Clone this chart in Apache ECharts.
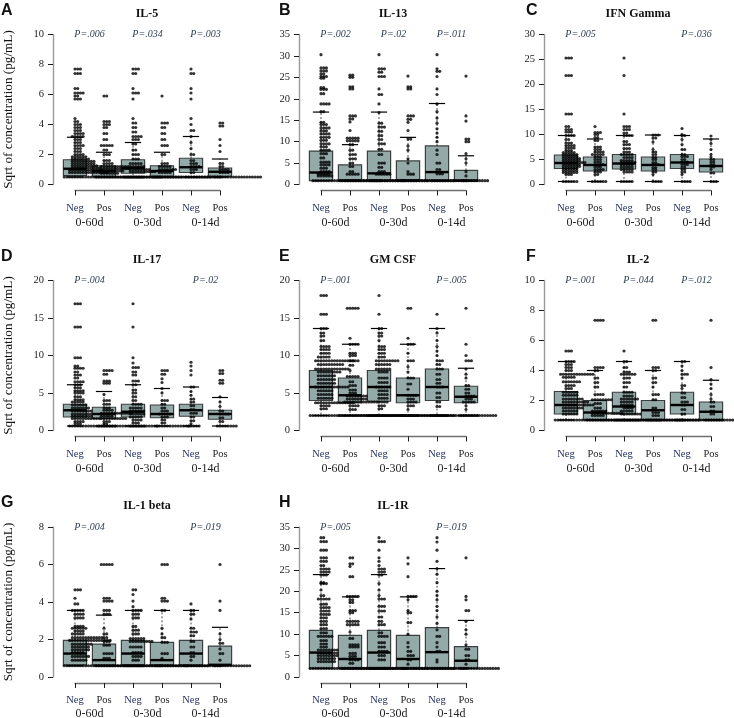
<!DOCTYPE html>
<html><head><meta charset="utf-8">
<style>html,body{margin:0;padding:0;background:#fff}#c{width:734px;height:718px}</style>
<script src="https://cdn.jsdelivr.net/npm/echarts@6/dist/echarts.min.js"></script>
</head><body><div id="c"></div>
<script>
const armLabels=['Neg','Pos','Neg','Pos','Neg','Pos'];
const windowLabels=['0-60d','0-30d','0-14d'];
const letters=['A','B','C','D','E','F','G','H'];
const titles=['IL-5','IL-13','IFN Gamma','IL-17','GM CSF','IL-2','IL-1 beta','IL-1R'];
const axisMax=[10,35,30,20,20,10,8,35];
const axisStep=[2,5,5,5,5,2,2,5];
const floors=[.5,.9,.6,.6,2,.7,.6,2];
const pValues=[
 ['P=.006','P=.034','P=.003'],['P=.002','P=.02','P=.011'],['P=.005',null,'P=.036'],['P=.004',null,'P=.02'],
 ['P=.001',null,'P=.005'],['P=.001','P=.044','P=.012'],['P=.004',null,'P=.019'],['P=.005',null,'P=.019']];
// each box: q1, median, q3, upper whisker
const boxes=[
 [[.6,1.05,1.65,3.15],[.55,.9,1.25,2.15],[.75,1.1,1.65,2.8],[.55,.9,1.25,2.15],[.8,1.15,1.75,3.2],[.55,.85,1.1,1.7]],
 [[.9,2.8,7.8,16.9],[.9,.9,4.6,9.3],[.9,2.6,7.8,16.9],[.9,.9,5.5,11],[.9,2.9,9,18.9],[.9,.9,3.3,6.7]],
 [[3.2,4.3,5.9,9.8],[2.7,3.9,5.5,9.1],[3.1,4.2,6,9.8],[2.7,3.9,5.5,9.9],[3.2,4.4,6,9.8],[2.5,3.7,5.1,9.1]],
 [[1.8,2.7,3.5,6.1],[1.6,2.2,3.1,5.2],[1.8,2.5,3.5,6.1],[1.7,2.2,3.4,5.6],[1.9,2.7,3.5,5.8],[1.5,2.2,2.7,4.4]],
 [[4,5.8,8,13.6],[3.7,4.7,7,11.5],[3.9,5.8,8,13.6],[3.7,4.7,7,11.5],[4,5.8,8.2,13.6],[3.7,4.5,5.9,8.3]],
 [[1.1,1.7,2.6,4.6],[.7,1.2,2,4],[1.1,1.6,2.55,4.6],[.7,1.35,2,4],[1.1,1.7,2.55,4.6],[.7,1.25,1.9,3.35]],
 [[.65,1.25,1.95,3.55],[.65,.9,1.75,3.3],[.65,1.25,1.95,3.55],[.65,.9,1.85,3.55],[.65,1.25,1.95,3.55],[.65,.65,1.65,2.65]],
 [[2,5.7,10.9,23.9],[2,4.2,9.7,18.7],[2,5.7,10.9,23.9],[2,4.2,9.7,18.7],[2,5.8,11.5,25.3],[2,3.8,7.1,13.2]]];
const il5=[
 [7.7,3,7.4,3,6.4,2,6.1,4,5.9,2,5.7,3,4.4,1,4.2,2,4,3,3.8,3,3.6,3,3.4,4,3.2,5,3,3,2.8,3,2.6,4,2.4,3,2.2,3,2,4,1.85,6,1.7,7,1.55,9,1.4,9,1.25,10,1.1,11,.95,13,.8,15,.5,30],
 [5.9,2,4.2,3,4,3,3.8,2,3.4,2,3,2,2.6,5,2.3,2,2,3,1.6,3,1.4,4,1.2,11,1.05,11,.9,9,.75,7,.5,25],
 [7.7,3,7.4,2,6.4,1,6.1,3,5.7,1,4.4,1,4.1,2,3.8,2,3.5,2,3.2,4,3,3,2.7,2,2.3,2,2,3,1.7,3,1.4,5,1.2,6,1,8,.85,10,.5,22],
 [5.9,1,4.1,3,3.8,2,3.4,2,3,2,2.6,3,2,2,1.4,3,1.2,5,1,7,.8,5,.5,22],
 [7.7,1,7.4,2,6.4,1,6.1,1,5.7,1,4.4,1,4,1,3.6,2,3.2,1,2.8,1,2.4,1,2,2,1.6,2,1.4,3,1.2,4,1,3,.8,2,.5,14],
 [4.1,2,3.9,2,3,1,2.6,1,2.2,1,1.4,2,1.2,2,1,4,.8,4,.5,18]];
const il13=[
 [30.3,1,27.2,3,26.5,3,25.8,2,25.2,3,24.8,2,22.6,2,22.2,3,21.2,2,18.8,4,17,2,14.5,2,14,3,13.2,4,12.5,3,11.8,4,11,4,10.3,3,9.5,4,8.8,3,8,4,7.2,3,6.2,2,5.2,4,4.6,4,3.8,3,3,4,2.4,5,2,6,.9,26],
 [25.5,2,25,2,22.8,2,22.3,2,16,3,15.3,2,14.6,1,12.6,1,10.8,5,10.2,5,9.3,2,8,2,7,3,6,3,5,2,4.2,2,3,2,2.4,5,.9,24],
 [30.3,1,27,3,26.2,2,25.2,3,22.3,1,21,2,18.8,1,16.8,1,14.3,2,13.4,3,12.4,2,11.4,2,10.5,2,9.5,3,8.2,2,7,2,5,3,4,2,3,3,2.4,6,.9,22],
 [25.3,1,22.8,2,22.3,2,16,3,15.2,2,14.5,1,12.6,1,10.6,2,9,1,8,1,6,1,5,1,3,1,2.4,3,.9,20],
 [30.3,1,27,1,26.4,2,25.2,1,22.3,1,21,1,18.8,1,17,1,15.5,1,14.3,1,13,1,12,1,11,1,10,1,8,1,7,1,5,2,3.5,2,2.5,3,.9,14],
 [25.3,1,16,1,14.8,1,10.6,2,10,2,7.2,1,6,1,5,1,3,1,2,1,.9,10]];
const ifnGamma=[
 [25.3,3,21.8,3,14.1,3,11.6,2,11,3,10.5,3,9.8,4,9,2,8.3,3,7.8,4,7.3,4,6.8,3,6.4,5,6,6,5.6,6,5.2,7,4.8,7,4.4,9,4,7,3.6,7,3.2,6,2.8,6,2.4,6,2,3,.6,6],
 [11.6,1,10.4,3,10,2,9.4,2,8.8,2,7.5,3,7,3,6.5,4,6,5,5.5,3,5,3,4.5,3,4,4,3.5,3,3,4,2.5,3,2,2,.6,6],
 [25.3,1,21.8,1,14.1,1,11.6,3,11,3,10.3,2,9.8,4,8.6,2,8,3,7.2,3,6.5,3,6,5,5.4,4,4.8,5,4.4,6,4,5,3.5,5,3,5,2.5,4,.6,5],
 [9.9,3,9.3,2,8.5,1,7,1,6.5,2,6,2,5.4,2,5,2,4.4,2,4,3,3.4,2,3,2,2.5,2,2,1,.6,4],
 [11.2,1,10,1,9.8,2,9,1,8,1,7,2,6,2,5.6,3,5,2,4.5,3,4,3,3.5,2,3,2,2.5,2,2,1,.6,4],
 [9.7,1,9,1,8.2,1,7,1,6,1,5.5,1,5,2,4.5,2,4,2,3.5,2,3,1,2.3,2,.6,3]];
const il17=[
 [16.9,3,13.8,3,9.7,3,8.6,2,8.3,4,7.8,2,7.4,3,7,2,6.5,4,6.1,3,5.7,3,5.3,4,5,4,4.5,3,4.1,4,3.8,5,3.4,6,3,7,2.6,8,2.2,8,1.9,8,1.6,11,1.2,4,.9,3,.6,18],
 [8,4,7.5,2,6.6,3,6.3,3,4.8,1,4,3,3.5,3,3,3,2.7,4,2.3,12,1.9,5,1.6,10,1.2,3,.9,2,.6,18],
 [16.9,1,13.8,1,9.7,1,9,1,8.4,3,7.8,2,7.4,2,6.6,3,6.1,2,5.4,2,5,2,4.5,2,4,2,3.5,4,3,5,2.6,6,2.2,6,1.8,5,1.4,4,1,3,.6,11],
 [8,3,7.5,2,6.9,1,6.4,1,5.6,1,5,1,4,3,3.5,2,3,2,2.6,3,2.2,5,1.8,3,1.4,2,1,2,.6,13],
 [9.1,1,8.6,1,8,1,7.4,1,5.8,2,5.2,1,4.7,1,4.2,2,3.8,2,3.3,2,2.8,2,2.3,3,1.8,2,1.3,2,.9,1,.6,5],
 [8,2,7.6,2,6.7,2,6.3,2,4.5,1,3.8,1,3.2,1,2.6,2,2.2,4,1.7,2,1.2,2,.6,8]];
const gmCsf=[
 [18,3,15.5,3,13.6,3,13,2,12.6,2,12,2,11.2,4,10.8,4,10.3,4,9.8,5,9.3,15,8.8,10,8.2,13,7.8,9,7.3,7,6.8,7,6.3,7,5.8,13,5.3,6,4.8,6,4.3,6,3.7,15,3.3,4,2.9,3,2,35],
 [16.3,5,12.3,1,11.5,4,10.3,3,10,3,9.3,4,8.7,2,8,1,7.2,5,6.5,2,6,3,5.4,3,5,3,4.6,8,4.2,8,3.8,13,3.3,4,2.8,3,2,30],
 [18,1,15.5,1,13.6,2,13,2,12.6,2,12,1,11.2,3,10.8,3,10.3,3,9.8,3,9.3,9,8.8,6,8.2,6,7.8,4,7,4,6.4,4,5.8,6,5.3,4,4.8,4,4.3,4,3.8,4,3.3,3,2.9,2,2,30],
 [16.3,2,12.3,1,11.5,3,10.3,1,9.3,3,8.5,1,7.8,1,7,3,6.2,2,5.5,1,4.7,4,4.2,3,3.8,4,3.3,3,2.8,1,2,20],
 [15.5,1,13.6,1,13,1,12,1,11.2,1,10.6,1,10,1,9.3,3,8.8,2,8.2,3,7.5,2,6.8,2,6.3,2,5.8,3,5,2,4.4,2,3.8,2,3.2,2,2,18],
 [16.3,1,11.5,1,10,1,9.3,3,8.2,1,7.5,1,7,1,6,2,5.5,2,5,2,4.6,4,4.2,3,3.8,5,3.3,1,2.8,1,2,14]];
const il2=[
 [5.3,3,4.6,4,4.4,3,4.2,3,4,3,3.75,13,3.55,5,3.25,7,3,4,2.8,3,2.55,6,2.35,6,2.1,8,1.9,10,1.7,12,1.5,8,1.3,6,1.1,6,.7,32],
 [7.35,4,4.2,4,4,2,3.5,2,3.2,2,2.9,2,2.4,4,2.05,8,1.8,3,1.5,3,1.3,6,1.15,12,1,5,.7,28],
 [5.3,1,4.6,2,4.2,2,3.9,3,3.75,6,3.5,3,3.2,3,2.9,2,2.55,4,2.3,4,2.1,7,1.9,5,1.7,5,1.5,4,1.3,5,1.1,8,.7,26],
 [7.35,2,4.2,3,4,2,3.5,2,3.2,2,2.9,1,2.4,3,2.05,2,1.5,2,1.2,3,1,3,.7,20],
 [4.6,2,4.3,1,4,1,3.75,3,3.5,1,3,2,2.8,1,2.5,2,2.2,2,1.9,3,1.7,2,1.4,2,1.1,2,.7,18],
 [7.35,1,4.2,1,3.4,1,3.1,1,2.8,1,2.4,1,2.1,1,1.9,2,1.6,2,1.3,2,1.1,2,.7,15]];
const il1Beta=[
 [4.65,3,4.2,1,3.9,2,3.55,5,3.35,4,3.15,4,2.7,4,2.6,6,2.45,4,2.3,5,2.1,12,1.95,16,1.75,8,1.6,7,1.45,7,1.3,5,1.1,7,.9,6,.6,30],
 [6,5,4.2,3,4.05,4,3.55,3,3.35,3,2.6,1,2.3,2,2.1,2,1.9,3,1.7,3,1.25,4,1,3,.6,25],
 [4.65,2,4.4,1,4.05,1,3.75,1,3.55,4,3.35,3,3.15,3,2.7,2,2.5,3,2.3,3,2.05,6,1.9,9,1.6,5,1.3,4,1.1,4,.9,3,.6,24],
 [6,3,4.2,2,4.05,3,3.55,2,2.6,1,2.3,1,2.1,2,1.85,3,1.25,3,1,1,.6,20],
 [3.9,1,3.55,2,3.35,2,3.1,1,2.6,2,2.4,3,2.2,2,1.9,2,1.6,2,1.3,2,1.1,2,.9,1,.6,14],
 [6,1,4.05,1,3.55,1,2.3,1,2,1,1.8,2,1.5,1,1.25,2,.9,1,.6,14]];
const il1R=[
 [32.5,2,31.6,3,29.6,3,27.8,3,27,3,26,2,25.2,4,24.5,4,23.8,3,22,2,21.8,3,20.3,1,19,2,18.2,5,17,3,16.2,4,15.4,4,14.6,4,13.8,3,13,3,12.2,3,11.3,3,10.3,3,9.5,6,8.5,3,7.7,3,7,3,6.3,8,5.6,8,5,8,4.3,7,3.6,7,2,30],
 [27.8,2,26.4,2,25.8,1,23.4,2,18.8,5,18,2,17.4,2,15.5,3,15,2,13,5,12.2,5,10.5,1,9,2,7.5,4,7,4,5.5,3,4.8,3,4,4,3.2,2,2,25],
 [32.5,1,31.6,3,29.6,1,27.8,1,27,1,26,1,25.2,3,24.5,3,23.8,2,21.8,1,20.3,1,19,1,18.2,3,16.5,3,15.4,3,14,2,13,2,12.2,3,10.3,2,9.5,4,8,3,7,3,6,4,5,3,4,3,2,22],
 [27.8,1,26.4,1,23.4,1,18.8,4,18,1,15.5,1,15,2,12.7,2,10,1,8,1,7,1,6,2,5,3,4,2,3,1,2,20],
 [32.5,1,31.5,1,29.6,1,27,1,25.3,1,24,1,22,1,20,1,19,1,18,1,16.5,1,15.5,1,14,1,12.5,1,11,1,9.5,2,8,1,7,1,6,2,4,1,3.5,1,2,14],
 [27.8,1,18.8,1,18,1,15.5,2,13,1,11,1,10,1,7.5,1,6.5,2,5,2,4,2,3,1,2,15]];
const swarms=[il5,il13,ifnGamma,il17,gmCsf,il2,il1Beta,il1R];

const colLeft=[75,321,566], rowTop=[34.5,280.5,527], plotW=145, plotH=150;
const INK='#1c1c1c', GREY='#6f6f6f', FILL='#93aaa8';
const SERIF='"Liberation Serif",serif';
const SWARM_STEP=2.7/29;

function expand(levels,group){
  const out=[];
  for(let i=0;i<levels.length;i+=2){
    const v=levels[i],n=levels[i+1],start=-Math.round(n*0.12);
    for(let k=0;k<n;k++) out.push([group+(start+k)*SWARM_STEP,v]);
  }
  return out;
}
const option={animation:false,backgroundColor:'#fff',title:[],grid:[],xAxis:[],yAxis:[],series:[]};
titles.forEach((t,p)=>{
  const col=p%3,row=Math.floor(p/3),L=colLeft[col],T=rowTop[row];
  option.grid.push({left:L,top:T,width:plotW,height:plotH,containLabel:false,outerBoundsMode:'none'});
  option.title.push({text:t,left:L+72,top:T-27,textAlign:'center',padding:0,
    textStyle:{fontFamily:SERIF,fontWeight:'bold',fontSize:12,color:'#111'}});
  option.title.push({text:letters[p],left:[1,279,526][col],top:T-32,padding:0,
    textStyle:{fontFamily:'"Liberation Sans",sans-serif',fontWeight:'bold',fontSize:16,color:'#111'}});
  const xi=option.xAxis.length;
  option.xAxis.push({type:'value',gridIndex:p,min:0,max:5,interval:1,offset:6,position:'bottom',
    splitLine:{show:false},axisLine:{onZero:false,lineStyle:{color:GREY,width:1.4}},
    axisTick:{length:5,inside:false,lineStyle:{color:INK,width:1}},
    axisLabel:{margin:12,fontFamily:SERIF,fontSize:10.5,color:v=>armLabels[v]==='Neg'?'#1d2a5c':'#222',formatter:v=>armLabels[v],hideOverlap:false,showMinLabel:true,showMaxLabel:true}});
  option.xAxis.push({type:'value',gridIndex:p,min:0,max:5,offset:6,position:'bottom',
    splitLine:{show:false},axisLine:{show:false,onZero:false},axisTick:{show:false},
    axisLabel:{margin:row===2?25:26,fontFamily:SERIF,fontSize:12,color:'#222',customValues:[.5,2.5,4.5],formatter:v=>windowLabels[(v-.5)/2]}});
  option.yAxis.push({type:'value',gridIndex:p,min:0,max:axisMax[p],interval:axisStep[p],offset:22,position:'left',
    splitLine:{show:false},axisLine:{show:true,onZero:false,lineStyle:{color:'#999',width:1.4}},
    axisTick:{show:true,length:5,lineStyle:{color:INK,width:1}},
    axisLabel:{margin:9,fontFamily:SERIF,fontSize:10.5,color:'#222'},
    name:col===0?'Sqrt of concentration (pg/mL)':'',nameLocation:'middle',nameGap:38,
    nameTextStyle:{fontFamily:SERIF,fontSize:13.2,color:'#111'}});
  const floor=floors[p];
  option.series.push({type:'custom',xAxisIndex:xi,yAxisIndex:p,clip:false,z:2,
    data:boxes[p].map((b,i)=>[i,...b]),encode:{x:0,y:[1,2,3,4]},
    renderItem:(params,api)=>{
      const x=api.value(0),q1=api.value(1),q3=api.value(3);
      const a=api.coord([x-.4,q3]),b=api.coord([x+.4,q1]);
      return {type:'rect',shape:{x:a[0],y:a[1],width:b[0]-a[0],height:b[1]-a[1]},
        style:{fill:FILL,stroke:'#3a3f3f',lineWidth:1.2}};
    }});
  option.series.push({type:'scatter',xAxisIndex:xi,yAxisIndex:p,clip:false,z:3,symbolSize:3.2,silent:true,
    itemStyle:{color:'#000'},data:swarms[p].flatMap((lv,g)=>expand(lv,g))});
  option.series.push({type:'custom',xAxisIndex:xi,yAxisIndex:p,clip:false,z:4,
    data:boxes[p].map((b,i)=>[i,...b,floor]),encode:{x:0,y:[1,2,3,4]},
    renderItem:(params,api)=>{
      const x=api.value(0),med=api.value(2),q1=api.value(1),q3=api.value(3),w=api.value(4),lo=api.value(5);
      const ln=(p1,p2,lw,dash)=>({type:'line',shape:{x1:p1[0],y1:p1[1],x2:p2[0],y2:p2[1]},style:{stroke:'#000',lineWidth:lw,lineDash:dash||null}});
      return {type:'group',children:[
        ln(api.coord([x-.4,med]),api.coord([x+.4,med]),2.4),
        ln(api.coord([x,q3]),api.coord([x,w]),.7,[2,2]),
        ln(api.coord([x,q1]),api.coord([x,lo]),.7,[2,2]),
        ln(api.coord([x-.28,w]),api.coord([x+.28,w]),1.2),
        ln(api.coord([x-.28,lo]),api.coord([x+.28,lo]),1.2)]};
    }});
  option.series.push({type:'custom',xAxisIndex:xi,yAxisIndex:p,clip:false,z:5,
    data:pValues[p].map((s,i)=>[i*2+.5,axisMax[p],s]).filter(d=>d[2]),
    renderItem:(params,api)=>{
      const c=api.coord([api.value(0),api.value(1)]);
      return {type:'text',x:c[0],y:c[1],style:{text:pValues[p].filter(Boolean)[params.dataIndex],
        fontFamily:SERIF,fontStyle:'italic',fontSize:10,fill:'#2e3d52',align:'center',verticalAlign:'middle'}};
    }});
});
echarts.init(document.getElementById('c')).setOption(option);
</script></body></html>
